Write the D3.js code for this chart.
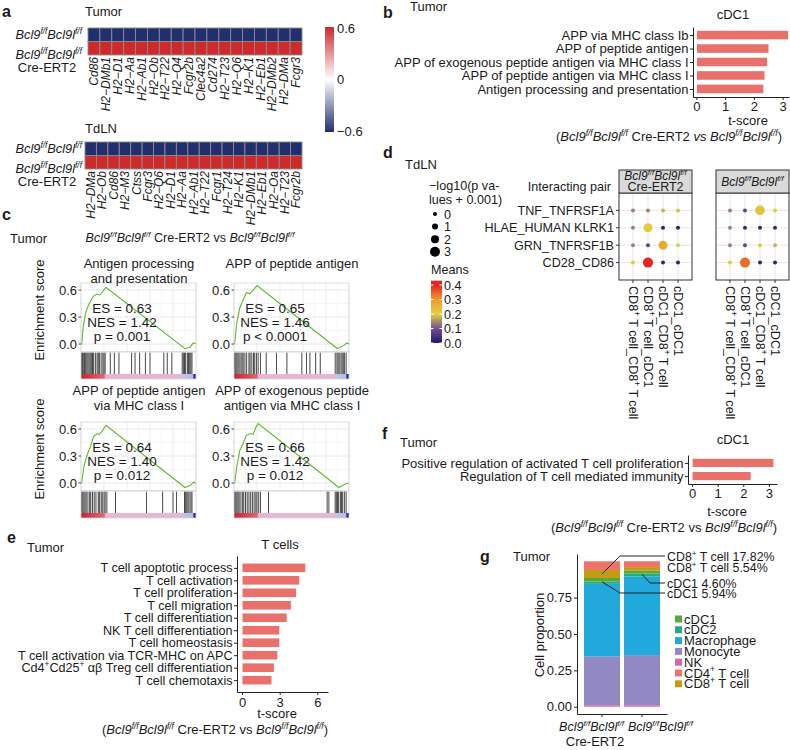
<!DOCTYPE html>
<html>
<head>
<meta charset="utf-8" />
<script src="https://cdn.jsdelivr.net/npm/d3@7"></script>
<style>
  body { margin: 0; background: #fff; }
  svg text { font-family: "Liberation Sans", Arial, Helvetica, sans-serif; white-space: pre; }
</style>
</head>
<body>
<svg id="fig" width="790" height="750"></svg>
<script>
// ---- a: heatmaps
const tumorGenes = ["Cd86","H2−DMb1","H2−D1","H2−Aa","H2−Ab1","H2−Ob","H2−T22","H2−Q4","Fcgr2b","Clec4a2","Cd274","H2−T23","H2−Q6","H2−K1","H2−Eb1","H2−DMb2","H2−DMa","Fcgr3"];
const tumorWT  = [-0.6,-0.6,-0.6,-0.6,-0.6,-0.6,-0.6,-0.6,-0.6,-0.6,-0.6,-0.6,-0.6,-0.6,-0.6,-0.6,-0.6,-0.6];
const tumorCre = [0.6,0.6,0.6,0.6,0.6,0.6,0.6,0.6,0.6,0.6,0.6,0.6,0.6,0.6,0.6,0.6,0.6,0.6];
const tdlnGenes = ["H2−DMa","H2−Ob","Cd86","H2−M3","Ctss","Fcgr3","H2−Q6","H2−D1","H2−Aa","H2−Ab1","H2−T22","Fcgr1","H2−T24","H2−K1","H2−DMb1","H2−Eb1","H2−Oa","H2−T23","Fcgr2b"];
const tdlnWT  = [-0.6,-0.6,-0.6,-0.6,-0.6,-0.6,-0.6,-0.6,-0.6,-0.6,-0.6,-0.6,-0.6,-0.6,-0.6,-0.6,-0.6,-0.6,-0.6];
const tdlnCre = [0.6,0.6,0.6,0.6,0.6,0.6,0.6,0.6,0.6,0.6,0.6,0.6,0.6,0.6,0.6,0.6,0.6,0.6,0.6];
const hmTicks = [0.6, 0, -0.6];

// ---- b
const bTerms = ["APP via MHC class Ib","APP of peptide antigen","APP of exogenous peptide antigen via MHC class I","APP of peptide antigen via MHC class I","Antigen processing and presentation"];
const bScores = [3.17, 2.49, 2.44, 2.35, 2.31];
const bTicks = [0, 1, 2, 3];

// ---- c: GSEA
const gseaTitles = [["Antigen processing","and presentation"],["APP of peptide antigen"],["APP of peptide antigen","via MHC class I"],["APP of exogenous peptide","antigen via MHC class I"]];
const gseaStats = [["ES = 0.63","NES = 1.42","p = 0.001"],["ES = 0.65","NES = 1.46","p < 0.0001"],["ES = 0.64","NES = 1.40","p = 0.012"],["ES = 0.66","NES = 1.42","p = 0.012"]];
const gseaCurve1 = [[0,0],[0.006,0],[0.02,0.2],[0.043,0.36],[0.072,0.45],[0.107,0.53],[0.136,0.555],[0.165,0.545],[0.18,0.57],[0.217,0.63],[0.904,-0.052],[0.948,-0.035],[0.977,0.012],[1,0.003]];
const gseaCurve2 = [[0,0],[0.006,0.01],[0.026,0.25],[0.05,0.4],[0.079,0.49],[0.108,0.57],[0.137,0.56],[0.167,0.6],[0.2,0.65],[0.898,-0.05],[0.956,-0.015],[0.98,0.01],[1,0.005]];
const gseaCurve3 = [[0,0],[0.006,0],[0.026,0.19],[0.055,0.32],[0.084,0.41],[0.107,0.51],[0.136,0.55],[0.159,0.54],[0.18,0.57],[0.217,0.64],[0.904,-0.05],[0.953,-0.026],[0.977,0.01],[1,0]];
const gseaCurve4 = [[0,0],[0.006,0],[0.026,0.2],[0.05,0.36],[0.079,0.44],[0.108,0.53],[0.143,0.55],[0.167,0.54],[0.19,0.62],[0.211,0.66],[0.912,-0.05],[0.97,-0.01],[1,0]];
const gseaHits1 = [0.005,0.012,0.02,0.03,0.038,0.05,0.06,0.07,0.08,0.09,0.1,0.11,0.125,0.14,0.15,0.16,0.175,0.19,0.2,0.21,0.255,0.29,0.33,0.44,0.47,0.51,0.56,0.6,0.72,0.75,0.79,0.88,0.89,0.9,0.91,0.925,0.935,0.945,0.955,0.965];
const gseaHits2 = [0.005,0.015,0.025,0.035,0.045,0.06,0.07,0.08,0.095,0.11,0.13,0.14,0.155,0.17,0.18,0.195,0.21,0.23,0.28,0.37,0.46,0.59,0.63,0.66,0.71,0.75,0.88,0.895,0.905,0.915,0.93,0.94,0.95,0.96,0.975];
const gseaHits3 = [0.005,0.015,0.025,0.035,0.045,0.06,0.075,0.085,0.1,0.115,0.13,0.15,0.16,0.175,0.185,0.2,0.21,0.225,0.3,0.57,0.71,0.8,0.83,0.9,0.91,0.92,0.93,0.94,0.955,0.965];
const gseaHits4 = [0.005,0.015,0.025,0.035,0.045,0.06,0.075,0.085,0.1,0.115,0.13,0.145,0.16,0.175,0.19,0.2,0.215,0.23,0.3,0.81,0.825,0.88,0.89,0.9,0.91,0.925,0.935,0.945,0.96,0.975];
const gseaTicks = [0, 0.3, 0.6];
const stripStops = [[0,"#c8232c"],[0.2,"#dc6770"],[0.215,"#e6b6d2"],[0.87,"#e6b6d2"],[0.885,"#c2c2ea"],[0.975,"#b9b9e8"],[0.98,"#2b2ba3"],[1,"#2b2ba3"]];

// ---- d: dot plot
const dPairs = ["TNF_TNFRSF1A","HLAE_HUMAN KLRK1","GRN_TNFRSF1B","CD28_CD86"];
const dCells = ["CD8{+} T cell_CD8{+} T cell","CD8{+} T cell_cDC1","cDC1_CD8{+} T cell","cDC1_cDC1"];
const meansCre = [[0.14,0.14,0.18,0.19],[0.14,0.21,0.02,0.02],[0.14,0.08,0.27,0.2],[0.2,0.4,0.02,0.02]];
const logpCre  = [[0,0,0,0],[0,2.5,0,0],[0,0,2.5,0],[0,3,0,0]];
const meansWT  = [[0.14,0.08,0.22,0.2],[0.14,0.03,0.02,0.03],[0.14,0.08,0.2,0.18],[0.2,0.34,0.02,0.02]];
const logpWT   = [[0,0,2.8,0],[0,0,0,0],[0,0,0,0],[0,3,0,0]];
const sizeTicks = [0, 1, 2, 3];
const meanTicks = [0.4, 0.3, 0.2, 0.1, 0.0];
const meanStops = [0, 0.1, 0.2, 0.3, 0.4];
const meanCols = ["#1c1a6c","#7a4c94","#dcd23e","#f29a2a","#e2261f"];

// ---- e
const eTerms = ["T cell apoptotic process","T cell activation","T cell proliferation","T cell migration","T cell differentiation","NK T cell differentiation","T cell homeostasis","T cell activation via TCR-MHC on APC","Cd4{+}Cd25{+} αβ Treg cell differentiation","T cell chemotaxis"];
const eScores = [5.0, 4.52, 4.27, 3.85, 3.52, 2.93, 2.93, 2.77, 2.5, 2.31];
const eTicks = [0, 3, 6];

// ---- f
const fTerms = ["Positive regulation of activated T cell proliferation","Regulation of T cell mediated immunity"];
const fScores = [3.16, 2.27];
const fTicks = [0, 1, 2, 3];

// ---- g: stacked proportions (bottom to top)
const gTypes = ["NK","Monocyte","Macrophage","cDC2","cDC1","CD8{+} T cell","CD4{+} T cell"];
const gColors = ["#d666a9","#9289c2","#22a9dc","#23aa86","#55aa3b","#c39b14","#ee7469"];
const gCre = [0.01, 0.335, 0.50, 0.015, 0.025, 0.055, 0.06];
const gWT  = [0.01, 0.345, 0.54, 0.02, 0.02, 0.025, 0.04];
const gLegend = ["cDC1","cDC2","Macrophage","Monocyte","NK","CD4{+} T cell","CD8{+} T cell"];
const gNotes = ["CD8{+} T cell 17.82%","CD8{+} T cell 5.54%","cDC1 4.60%","cDC1 5.94%"];
const gTicks = [0, 0.25, 0.5, 0.75];

const svg = d3.select("#fig");
const FONT = 13;
const INK = "#1a1a1a";
const BAR = "#e9716b";
const GENO = "*Bcl9*{f/f}*Bcl9l*{f/f}";
const defs = svg.append("defs");

// *italic* and {superscript}
function rich(sel, str, size) {
  const toks = str.split(/(\*[^*]+\*|\{[^}]+\})/).filter(s => s.length);
  let up = false, prevIt = false;
  toks.forEach(tok => {
    const t = sel.append("tspan");
    if (tok[0] === "{") {
      t.text(tok.slice(1, -1)).attr("font-size", size * 0.65).attr("dy", up ? 0 : -size * 0.4);
      if (prevIt) t.attr("font-style", "italic");
      up = true;
    } else {
      const it = tok[0] === "*";
      t.text(it ? tok.slice(1, -1) : tok);
      if (it) t.attr("font-style", "italic");
      if (up) { t.attr("dy", size * 0.4); up = false; }
      prevIt = it;
    }
  });
}

function txt(x, y, str, o) {
  o = o || {};
  const size = o.size || FONT;
  const t = svg.append("text").attr("x", x).attr("y", y)
    .attr("font-size", size)
    .attr("text-anchor", o.anchor || "start")
    .attr("fill", INK);
  if (o.bold) t.attr("font-weight", "bold");
  if (o.rotate) t.attr("transform", `rotate(${o.rotate},${x},${y})`);
  rich(t, str, size);
  return t;
}

function styleAxis(a, size) {
  a.attr("font-family", null).attr("font-size", null);
  a.selectAll("text").attr("font-size", size || FONT).attr("fill", INK);
  a.selectAll("line,path").attr("stroke", "#222");
}

// panel letters and headers
[["a",2,17],["b",383,18],["c",2,220],["d",383,158],["e",7,543],["f",382,439],["g",480,562]]
  .forEach(p => txt(p[1], p[2], p[0], {bold: true, size: 16}));
txt(85, 16, "Tumor");
txt(85, 133, "TdLN");
txt(410, 11, "Tumor");
txt(10, 243, "Tumor");
txt(405, 169, "TdLN");
txt(27, 552, "Tumor");
txt(400, 447, "Tumor");
txt(513, 561, "Tumor");

// ================= a
const hmColor = d3.scaleLinear().domain([-0.6, 0, 0.6]).range(["#212f6f", "#ffffff", "#cd2a2b"]).clamp(true);

function heatmap(genes, wt, cre, x0, x1, y0) {
  const x = d3.scaleBand().domain(genes).range([x0, x1]);
  const y = d3.scaleBand().domain(["wt", "cre"]).range([y0, y0 + 27]);
  const cells = [];
  genes.forEach((gn, i) => {
    cells.push({gene: gn, row: "wt", v: wt[i]});
    cells.push({gene: gn, row: "cre", v: cre[i]});
  });
  const g = svg.append("g");
  g.selectAll("rect").data(cells).join("rect")
    .attr("x", d => x(d.gene)).attr("y", d => y(d.row))
    .attr("width", x.bandwidth()).attr("height", y.bandwidth())
    .attr("fill", d => hmColor(d.v))
    .attr("stroke", "#8c8c8c").attr("stroke-width", 0.9);
  g.selectAll("text").data(genes).join("text")
    .attr("transform", d => `translate(${x(d) + x.bandwidth() / 2},${y0 + 29}) rotate(-90)`)
    .attr("dy", "0.35em").attr("text-anchor", "end")
    .attr("font-size", 12).attr("font-style", "italic").attr("fill", INK)
    .text(d => d);
  const c1 = y("wt") + y.bandwidth() / 2, c2 = y("cre") + y.bandwidth() / 2;
  txt(82, c1 + 4.5, GENO, {anchor: "end", size: 12.8});
  txt(82, c2 + 11, GENO, {anchor: "end", size: 12.8});
  txt(47, c2 + 23.5, "Cre-ERT2", {anchor: "middle"});
}
heatmap(tumorGenes, tumorWT, tumorCre, 88, 302, 28);
heatmap(tdlnGenes, tdlnWT, tdlnCre, 85, 302, 142);

// colour bar
const hmY = d3.scaleLinear().domain([-0.6, 0.6]).range([131, 28]);
const hmGrad = defs.append("linearGradient").attr("id", "hmGrad")
  .attr("x1", 0).attr("x2", 0).attr("y1", 1).attr("y2", 0);
d3.range(-0.6, 0.61, 0.1).forEach(v => {
  hmGrad.append("stop").attr("offset", (v + 0.6) / 1.2).attr("stop-color", hmColor(v));
});
svg.append("rect").attr("x", 325).attr("y", hmY(0.6) - 1).attr("width", 9)
  .attr("height", hmY(-0.6) - hmY(0.6) + 2).attr("fill", "url(#hmGrad)");
hmTicks.forEach(v => txt(337, hmY(v) + 4.5, v === 0 ? "0" : (v > 0 ? "0.6" : "−0.6")));

// ================= b, e, f bar charts
function hbar(o) {
  const x = d3.scaleLinear().domain(o.xd).range(o.xr);
  const y = d3.scalePoint().domain(o.terms).range(o.yr).padding(o.pad);
  const g = svg.append("g");
  g.selectAll("rect").data(o.terms).join("rect")
    .attr("x", x(0) + 0.5).attr("y", d => y(d) - o.bh / 2)
    .attr("width", (d, i) => x(o.vals[i]) - x(0)).attr("height", o.bh)
    .attr("fill", BAR);
  const ya = g.append("g").attr("transform", `translate(${o.xr[0]},0)`)
    .call(d3.axisLeft(y).tickSize(3).tickSizeOuter(0).tickPadding(1.5));
  const xa = g.append("g").attr("transform", `translate(0,${o.yr[1]})`)
    .call(d3.axisBottom(x).tickValues(o.ticks).tickSize(3).tickSizeOuter(0).tickPadding(o.tpad || 2).tickFormat(d3.format("d")));
  styleAxis(ya, o.size); styleAxis(xa);
  ya.selectAll(".tick text").each(function(d) {
    const s = d3.select(this); s.text(null); rich(s, d, o.size || FONT);
  });
}

hbar({terms: bTerms, vals: bScores, xd: [-0.12, 3.22], xr: [693, 789], yr: [27, 97], pad: 0.6, bh: 8.6, ticks: bTicks});
txt(733, 19, "cDC1", {anchor: "middle"});
txt(748, 125, "t-score", {anchor: "middle"});
txt(669, 141, "(" + GENO + " Cre-ERT2 *vs* " + GENO + ")", {anchor: "middle"});

hbar({terms: eTerms, vals: eScores, xd: [-0.4, 6.85], xr: [237, 328], yr: [556, 692], pad: 0.95, bh: 8.6, ticks: eTicks, size: 12.6, tpad: 2.5});
txt(280, 549, "T cells", {anchor: "middle"});
txt(277, 718, "t-score", {anchor: "middle"});
txt(215, 734, "(" + GENO + " Cre-ERT2 vs " + GENO + ")", {anchor: "middle"});

hbar({terms: fTerms, vals: fScores, xd: [-0.16, 3.32], xr: [688, 777], yr: [455, 484], pad: 0.6, bh: 8.2, ticks: fTicks});
txt(733, 444, "cDC1", {anchor: "middle"});
txt(727, 516, "t-score", {anchor: "middle"});
txt(664, 532, "(" + GENO + " Cre-ERT2 vs " + GENO + ")", {anchor: "middle"});

// ================= c GSEA
txt(190, 242, GENO + " Cre-ERT2 vs " + GENO, {anchor: "middle", size: 12.5});
const stripGrad = defs.append("linearGradient").attr("id", "stripGrad");
stripStops.forEach(s => stripGrad.append("stop").attr("offset", s[0]).attr("stop-color", s[1]));

const gseaCurves = [gseaCurve1, gseaCurve2, gseaCurve3, gseaCurve4];
const gseaHits = [gseaHits1, gseaHits2, gseaHits3, gseaHits4];
const gseaCols = [81, 234], gseaTops = [283, 422], gseaTitleY = [[268, 283], [395, 410]];

gseaCurves.forEach((curve, i) => {
  const x0 = gseaCols[i % 2], t = gseaTops[Math.floor(i / 2)];
  const x = d3.scaleLinear().domain([0, 1]).range([x0, x0 + 115]);
  const y = d3.scaleLinear().domain([-0.085, 0.678]).range([t + 68.7, t]);
  const g = svg.append("g");
  g.append("rect").attr("x", x0).attr("y", t).attr("width", 115).attr("height", 68.7).attr("fill", "#fff");
  x.ticks(10).forEach((v, k) => g.append("line").attr("x1", x(v)).attr("x2", x(v)).attr("y1", t).attr("y2", t + 68.7)
    .attr("stroke", k % 2 ? "#f3f3f3" : "#e6e6e6").attr("stroke-width", 0.7));
  [-0.15, 0.15, 0.45].concat(gseaTicks).forEach(v => {
    if (y(v) < t || y(v) > t + 68.7) return;
    g.append("line").attr("x1", x0).attr("x2", x0 + 115).attr("y1", y(v)).attr("y2", y(v))
      .attr("stroke", gseaTicks.includes(v) ? "#e3e3e3" : "#f3f3f3").attr("stroke-width", 0.8);
  });
  g.append("path").datum(curve)
    .attr("d", d3.line().x(d => x(d[0])).y(d => y(d[1])))
    .attr("fill", "none").attr("stroke", "#5fb82f").attr("stroke-width", 1.1);
  g.append("rect").attr("x", x0).attr("y", t).attr("width", 115).attr("height", 68.7)
    .attr("fill", "none").attr("stroke", "#d4d4d4").attr("stroke-width", 0.8);
  // rug
  g.selectAll("line.hit").data(gseaHits[i]).join("line").attr("class", "hit")
    .attr("x1", d => x(d)).attr("x2", d => x(d)).attr("y1", t + 69.5).attr("y2", t + 91)
    .attr("stroke", "#111").attr("stroke-width", 0.9).attr("opacity", 0.85);
  g.append("rect").attr("x", x0).attr("y", t + 91).attr("width", 115).attr("height", 5).attr("fill", "url(#stripGrad)");
  g.append("rect").attr("x", x0).attr("y", t + 69).attr("width", 115).attr("height", 27)
    .attr("fill", "none").attr("stroke", "#d4d4d4").attr("stroke-width", 0.8);
  // y axis
  gseaTicks.forEach(v => {
    g.append("line").attr("x1", x0 - 2.5).attr("x2", x0).attr("y1", y(v)).attr("y2", y(v)).attr("stroke", "#444");
    txt(x0 - 4, y(v) + 4.5, d3.format(".1f")(v), {anchor: "end"});
  });
  gseaTitles[i].forEach((line, k) => txt(x0 + 58, gseaTitleY[Math.floor(i / 2)][k], line, {anchor: "middle"}));
  gseaStats[i].forEach((line, k) => txt(x0 + 41, t + 30 + 14 * k, line, {anchor: "middle", size: 13.5}));
  if (i % 2 === 0) txt(44, t + 27, "Enrichment score", {anchor: "middle", rotate: -90});
});

// ================= d dot plot
const meanColor = d3.scaleLinear().domain(meanStops).range(meanCols).clamp(true);
const rScale = d3.scaleLinear().domain([0, 3]).range([2, 5]);
const dY = d3.scalePoint().domain(dPairs).range([193, 280]).padding(1);

function dotPanel(px0, px1, means, logp, facet, first) {
  const x = d3.scalePoint().domain(dCells).range([px0, px1]).padding(0.93);
  const g = svg.append("g");
  g.append("rect").attr("x", px0).attr("y", 193).attr("width", px1 - px0).attr("height", 87).attr("fill", "#fff");
  dCells.forEach(c => g.append("line").attr("x1", x(c)).attr("x2", x(c)).attr("y1", 193).attr("y2", 280).attr("stroke", "#e6e6e6"));
  dPairs.forEach(p => g.append("line").attr("x1", px0).attr("x2", px1).attr("y1", dY(p)).attr("y2", dY(p)).attr("stroke", "#e6e6e6"));
  const pts = [];
  dPairs.forEach((p, r) => dCells.forEach((c, k) => pts.push({p: p, c: c, m: means[r][k], s: logp[r][k]})));
  g.selectAll("circle").data(pts).join("circle")
    .attr("cx", d => x(d.c)).attr("cy", d => dY(d.p)).attr("r", d => rScale(d.s))
    .attr("fill", d => meanColor(d.m));
  g.append("rect").attr("x", px0).attr("y", 193).attr("width", px1 - px0).attr("height", 87)
    .attr("fill", "none").attr("stroke", "#333").attr("stroke-width", 1);
  g.append("rect").attr("x", px0).attr("y", 170).attr("width", px1 - px0).attr("height", 23)
    .attr("fill", "#d9d9d9").attr("stroke", "#333").attr("stroke-width", 1);
  const cx = (px0 + px1) / 2;
  if (facet.length === 2) {
    txt(cx, 180, facet[0], {anchor: "middle", size: 12});
    txt(cx, 191, facet[1], {anchor: "middle", size: 12.5});
  } else {
    txt(cx, 186, facet[0], {anchor: "middle", size: 12});
  }
  dCells.forEach(c => {
    g.append("line").attr("x1", x(c)).attr("x2", x(c)).attr("y1", 280).attr("y2", 283).attr("stroke", "#333");
    const t = g.append("text").attr("font-size", 12.6).attr("fill", INK).attr("dy", "0.35em")
      .attr("transform", `translate(${x(c)},286) rotate(90)`);
    rich(t, c, 12.6);
  });
  if (first) {
    dPairs.forEach(p => {
      g.append("line").attr("x1", px0 - 3).attr("x2", px0).attr("y1", dY(p)).attr("y2", dY(p)).attr("stroke", "#333");
      txt(px0 - 5, dY(p) + 4.5, p, {anchor: "end", size: 12.6});
    });
  }
}
dotPanel(619, 692, meansCre, logpCre, [GENO, "Cre-ERT2"], true);
dotPanel(716, 789, meansWT, logpWT, [GENO], false);
txt(611, 191, "Interacting pair", {anchor: "end", size: 12.6});

// legends for d
txt(429, 190, "−log10(p va-", {size: 12.6});
txt(429, 204, "lues + 0.001)", {size: 12.6});
sizeTicks.forEach((v, k) => {
  svg.append("circle").attr("cx", 435).attr("cy", 214 + 12.6 * k).attr("r", rScale(v)).attr("fill", "#000");
  txt(444, 214 + 12.6 * k + 4.5, String(v), {size: 12.6});
});
txt(431, 274, "Means", {size: 12.6});
const mY = d3.scaleLinear().domain([0, 0.4]).range([343, 285]);
const mGrad = defs.append("linearGradient").attr("id", "mGrad")
  .attr("x1", 0).attr("x2", 0).attr("y1", 1).attr("y2", 0);
d3.range(0, 0.44, 0.02).forEach(v => mGrad.append("stop").attr("offset", v / 0.43).attr("stop-color", meanColor(v)));
svg.append("rect").attr("x", 431).attr("y", mY(0.43)).attr("width", 11).attr("height", mY(0) - mY(0.43)).attr("fill", "url(#mGrad)");
meanTicks.forEach(v => {
  svg.append("line").attr("x1", 431).attr("x2", 433.5).attr("y1", mY(v)).attr("y2", mY(v)).attr("stroke", "#fff");
  svg.append("line").attr("x1", 439.5).attr("x2", 442).attr("y1", mY(v)).attr("y2", mY(v)).attr("stroke", "#fff");
  txt(444, mY(v) + 4.5, d3.format(".1f")(v), {size: 12.6});
});

// ================= g stacked bars
const gGroups = ["cre", "wt"];
const gRows = gGroups.map((grp, gi) => {
  const row = {group: grp};
  gTypes.forEach((tp, k) => row[tp] = (gi === 0 ? gCre : gWT)[k]);
  return row;
});
const stacked = d3.stack().keys(gTypes)(gRows);
const gx = d3.scaleBand().domain(gGroups).range([577, 667]).paddingInner(0.1).paddingOuter(0.175);
const gy = d3.scaleLinear().domain([-0.05, 1.05]).range([714, 554]);
const gg = svg.append("g");
stacked.forEach((layer, k) => {
  gg.selectAll(null).data(layer).join("rect")
    .attr("x", d => gx(d.data.group)).attr("width", gx.bandwidth())
    .attr("y", d => gy(d[1])).attr("height", d => gy(d[0]) - gy(d[1]))
    .attr("fill", gColors[k]);
});
const gya = gg.append("g").attr("transform", "translate(577,0)")
  .call(d3.axisLeft(gy).tickValues(gTicks).tickFormat(d3.format(".2f")).tickSize(3).tickSizeOuter(0).tickPadding(2));
const gxa = gg.append("g").attr("transform", "translate(0,714)")
  .call(d3.axisBottom(gx).tickSize(3).tickSizeOuter(0).tickFormat(""));
styleAxis(gya); styleAxis(gxa);
txt(544, 635, "Cell proportion", {anchor: "middle", rotate: -90});
txt(gx("cre") + gx.bandwidth() + 4, 731, GENO, {anchor: "end", size: 12.5});
txt(gx("cre") + gx.bandwidth() / 2 - 7, 746, "Cre-ERT2", {anchor: "middle"});
txt(gx("wt") + 4, 731, GENO, {anchor: "start", size: 12.5});

// annotations with leader lines
const seg = (grp, tp) => {
  const layer = stacked[gTypes.indexOf(tp)];
  const d = layer[gGroups.indexOf(grp)];
  return gy((d[0] + d[1]) / 2);
};
const noteY = [556, 567, 583, 593];
gNotes.forEach((s, k) => txt(667, noteY[k] + 4.5, s, {size: 12.4}));
const lead = (pts) => gg.append("path").attr("d", d3.line()(pts)).attr("fill", "none").attr("stroke", "#222").attr("stroke-width", 1);
const b1c = gx("cre") + gx.bandwidth() / 2, b1r = gx("cre") + gx.bandwidth();
const b2c = gx("wt") + gx.bandwidth() / 2;
lead([[b1c, seg("cre", "CD8{+} T cell")], [b1r, noteY[0]], [665, noteY[0]]]);
lead([[b2c, seg("wt", "cDC1") + 2], [b2c + 8, noteY[2]], [665, noteY[2]]]);
lead([[b1c, seg("cre", "cDC1") + 2], [b1r, noteY[3]], [665, noteY[3]]]);

// legend
gLegend.forEach((s, k) => {
  svg.append("rect").attr("x", 675).attr("y", 619 + 10.8 * k - 3.5).attr("width", 7).attr("height", 7)
    .attr("fill", gColors[gTypes.indexOf(s)]);
  txt(684, 619 + 10.8 * k + 4.5, s);
});
</script>
</body>
</html>
